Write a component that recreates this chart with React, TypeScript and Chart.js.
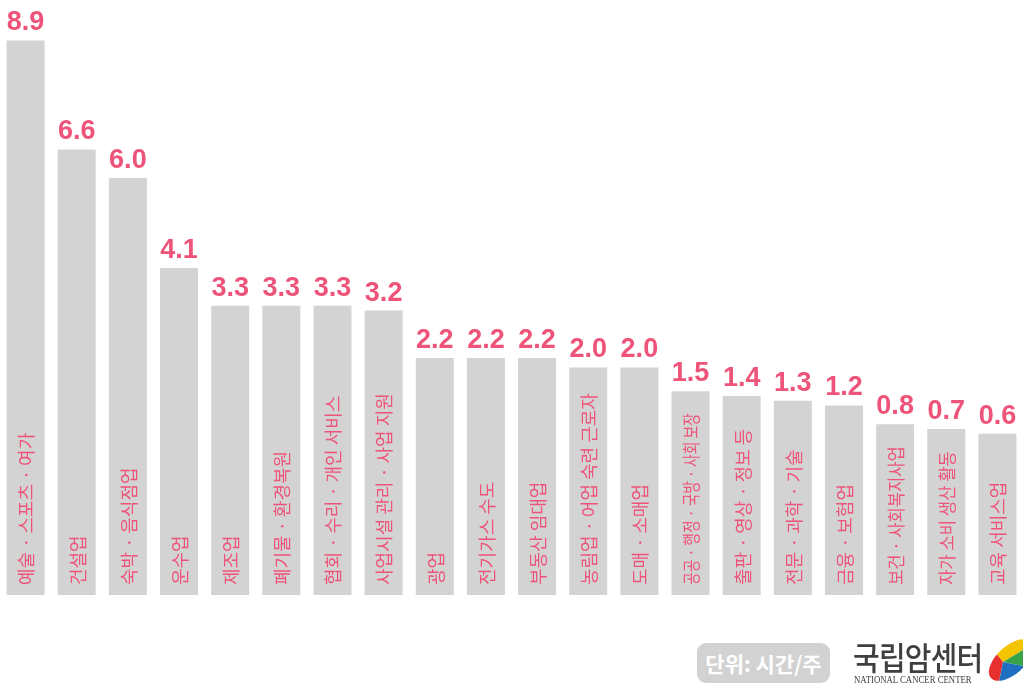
import React, { useEffect, useRef } from "react";
import { Chart, registerables } from "chart.js";

Chart.register(...registerables);

const categories: string[] = [
  "예술 · 스포츠 · 여가",
  "건설업",
  "숙박 · 음식점업",
  "운수업",
  "제조업",
  "폐기물 · 환경복원",
  "협회 · 수리 · 개인 서비스",
  "사업시설 관리 · 사업 지원",
  "광업",
  "전기가스 수도",
  "부동산 임대업",
  "농림업 · 어업 숙련 근로자",
  "도매 · 소매업",
  "공공 · 행정 · 국방 · 사회 보장",
  "출판 · 영상 · 정보 등",
  "전문 · 과학 · 기술",
  "금융 · 보험업",
  "보건 · 사회복지사업",
  "자가 소비 생산 활동",
  "교육 서비스업",
];

const hoursPerWeek: number[] = [
  8.9, 6.6, 6.0, 4.1, 3.3, 3.3, 3.3, 3.2, 2.2, 2.2, 2.2, 2.0, 2.0, 1.5, 1.4, 1.3, 1.2, 0.8, 0.7, 0.6,
];

const unitLabel = "단위: 시간/주";
const orgName = "국립암센터";
const orgNameEn = "NATIONAL CANCER CENTER";

const AXIS_MIN = -2.8;
const AXIS_MAX = 9.5;

const PINK = "#ee5479";
const BAR_GRAY = "#d3d3d3";

const labelPlugin = {
  id: "barLabels",
  afterDatasetsDraw(chart: any) {
    const ctx = chart.ctx as CanvasRenderingContext2D;
    const meta = chart.getDatasetMeta(0);
    const bottom = chart.chartArea.bottom;
    meta.data.forEach((bar: any, i: number) => {
      const { x, y } = bar.getProps(["x", "y"], true);
      ctx.save();
      ctx.fillStyle = PINK;
      ctx.font = 'bold 27px "Liberation Sans", Arial, sans-serif';
      ctx.textAlign = "center";
      ctx.textBaseline = "alphabetic";
      ctx.fillText(hoursPerWeek[i].toFixed(1), x, y - 10);
      const startY = bottom - 10;
      const room = startY - y - 22;
      ctx.translate(x, startY);
      ctx.rotate(-Math.PI / 2);
      ctx.font = '18px "Noto Sans CJK KR", sans-serif';
      ctx.textAlign = "left";
      ctx.textBaseline = "middle";
      const natural = ctx.measureText(categories[i]).width;
      if (natural > room) {
        ctx.fillText(categories[i], 0, 1, room);
      } else {
        ctx.fillText(categories[i], 0, 1);
      }
      ctx.restore();
    });
  },
};

export default function App() {
  const canvasRef = useRef<HTMLCanvasElement | null>(null);

  useEffect(() => {
    if (!canvasRef.current) return;
    const chart = new Chart(canvasRef.current, {
      type: "bar",
      data: {
        labels: categories,
        datasets: [
          {
            data: hoursPerWeek,
            base: AXIS_MIN,
            backgroundColor: BAR_GRAY,
            borderWidth: 0,
            barPercentage: 0.743,
            categoryPercentage: 1.0,
          } as any,
        ],
      },
      options: {
        responsive: true,
        maintainAspectRatio: false,
        animation: false,
        layout: { padding: { top: 12, bottom: 92, left: 0, right: 0 } },
        scales: {
          x: { display: false },
          y: { display: false, min: AXIS_MIN, max: AXIS_MAX },
        },
        plugins: {
          legend: { display: false },
          tooltip: { enabled: false },
        },
      },
      plugins: [labelPlugin],
    });
    return () => chart.destroy();
  }, []);

  return (
    <div
      style={{
        position: "fixed",
        left: 0,
        top: 0,
        width: 1023,
        height: 687,
        background: "#ffffff",
        overflow: "hidden",
      }}
    >
      <canvas ref={canvasRef} style={{ position: "absolute", left: 0, top: 0, width: 1023, height: 687 }} />
      <div
        style={{
          position: "absolute",
          left: 697,
          top: 643,
          width: 133,
          height: 40,
          borderRadius: 9,
          background: "#d2d2d2",
          color: "#ffffff",
          fontFamily: '"Noto Sans CJK KR", sans-serif',
          fontWeight: 700,
          fontSize: 21,
          lineHeight: "40px",
          textAlign: "center",
        }}
      >
        {unitLabel}
      </div>
      <div
        style={{
          position: "absolute",
          left: 853,
          top: 635,
          fontFamily: '"Noto Sans CJK KR", sans-serif',
          fontWeight: 500,
          fontSize: 29,
          letterSpacing: -0.8,
          color: "#3f3f3f",
          lineHeight: "38px",
          transform: "scaleY(1.1)",
          transformOrigin: "top left",
          whiteSpace: "nowrap",
        }}
      >
        {orgName}
      </div>
      <div
        style={{
          position: "absolute",
          left: 854,
          top: 675,
          fontFamily: '"Liberation Serif", serif',
          fontSize: 9.5,
          color: "#3f3f3f",
          lineHeight: "11px",
          whiteSpace: "nowrap",
          transform: "scaleX(0.92)",
          transformOrigin: "top left",
        }}
      >
        {orgNameEn}
      </div>
      <svg
        style={{ position: "absolute", left: 984, top: 636 }}
        width={39}
        height={51}
        viewBox="0 0 39 51"
      >
        <defs>
          <clipPath id="leaf">
            <ellipse cx={27} cy={24} rx={27} ry={14} transform="rotate(-42 27 24)" />
          </clipPath>
        </defs>
        <g clipPath="url(#leaf)">
          <polygon points="0,5 0,0 39,0 39,14 19,26 11,16" fill="#f5c400" />
          <polygon points="0,5 11,16 19,26 14,51 0,51" fill="#e8312f" />
          <polygon points="19,26 39,14 39,30" fill="#3aa34a" />
          <polygon points="19,26 39,30 39,51 14,51" fill="#1f6fc1" />
        </g>
      </svg>
    </div>
  );
}
